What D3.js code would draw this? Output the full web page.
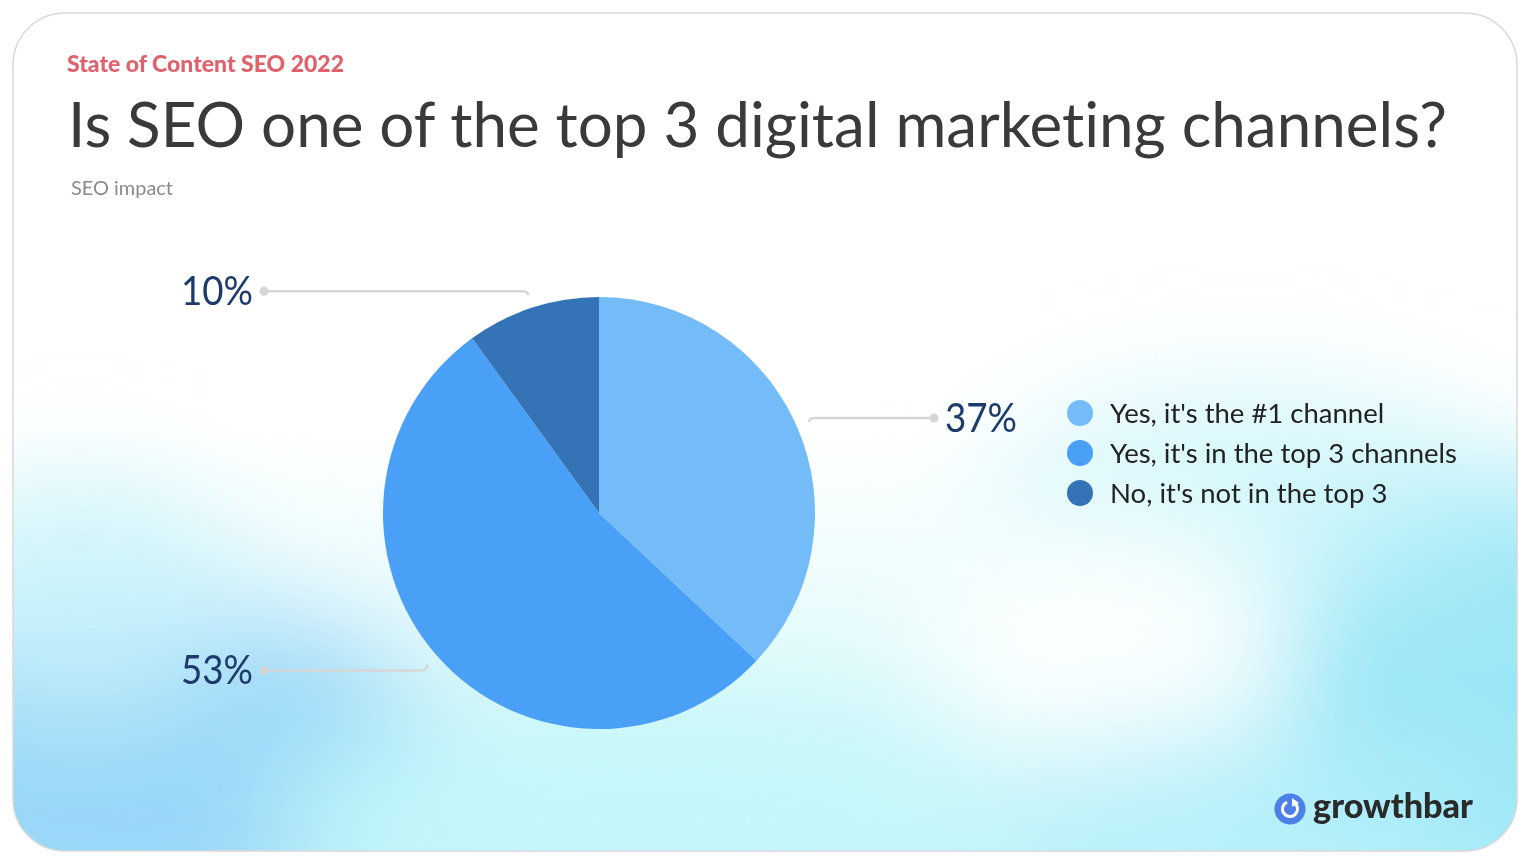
<!DOCTYPE html>
<html>
<head>
<meta charset="utf-8">
<script src="https://cdn.jsdelivr.net/npm/d3@7"></script>
<style>
  html, body { margin: 0; padding: 0; background: #ffffff; }
  svg { display: block; }
  text { font-variant-ligatures: none; font-feature-settings: "liga" 0; }
</style>
</head>
<body>
<svg id="chart" width="1536" height="864"></svg>
<script>
// ---- data ----
const categories = ["Yes, it's the #1 channel", "Yes, it's in the top 3 channels", "No, it's not in the top 3"];
const values = [37, 53, 10];
const labels = ["37%", "53%", "10%"];
const palette = ["#74bcf8", "#4a9ff7", "#3473b6"];
const kicker = "State of Content SEO 2022";
const title = "Is SEO one of the top 3 digital marketing channels?";
const subtitle = "SEO impact";
const brand = "growthbar";

const W = 1536, H = 864;
const svg = d3.select("#chart");
const defs = svg.append("defs");

// card clip
defs.append("clipPath").attr("id", "cardClip")
  .append("rect").attr("x", 13).attr("y", 13).attr("width", 1504).attr("height", 838).attr("rx", 52);

const vg = defs.append("linearGradient").attr("id", "bgGrad").attr("x1", 0).attr("y1", 0).attr("x2", 0).attr("y2", 1);
vg.append("stop").attr("offset", "0%").attr("stop-color", "#ffffff");
vg.append("stop").attr("offset", "50%").attr("stop-color", "#ffffff");
vg.append("stop").attr("offset", "75%").attr("stop-color", "#e6fbfc");
vg.append("stop").attr("offset", "100%").attr("stop-color", "#c6f5fa");

defs.append("filter").attr("id", "blur").attr("x", "-50%").attr("y", "-50%").attr("width", "200%").attr("height", "200%")
  .append("feGaussianBlur").attr("stdDeviation", 55);

const card = svg.append("g").attr("clip-path", "url(#cardClip)");
card.append("rect").attr("x", 13).attr("y", 13).attr("width", 1504).attr("height", 838).attr("fill", "url(#bgGrad)");
const blobs = card.append("g").attr("filter", "url(#blur)");
blobs.append("ellipse").attr("cx", 130).attr("cy", 770).attr("rx", 320).attr("ry", 170).attr("fill", "#93d3f7").attr("opacity", 0.9);
blobs.append("ellipse").attr("cx", 80).attr("cy", 600).attr("rx", 160).attr("ry", 120).attr("fill", "#c8f3fa").attr("opacity", 0.8);
blobs.append("ellipse").attr("cx", 650).attr("cy", 820).attr("rx", 380).attr("ry", 120).attr("fill", "#c4f7fa").attr("opacity", 0.9);
blobs.append("ellipse").attr("cx", 1490).attr("cy", 690).attr("rx", 200).attr("ry", 220).attr("fill", "#94e4f6").attr("opacity", 0.9);
blobs.append("ellipse").attr("cx", 1250).attr("cy", 500).attr("rx", 260).attr("ry", 110).attr("fill", "#c2f4fa").attr("opacity", 0.7);
blobs.append("ellipse").attr("cx", 1100).attr("cy", 640).attr("rx", 170).attr("ry", 130).attr("fill", "#ffffff").attr("opacity", 0.85);
blobs.append("ellipse").attr("cx", 1250).attr("cy", 820).attr("rx", 260).attr("ry", 90).attr("fill", "#b2eef9").attr("opacity", 0.8);

svg.append("rect").attr("x", 13).attr("y", 13).attr("width", 1504).attr("height", 838).attr("rx", 52)
  .attr("fill", "none").attr("stroke", "#d9d9d9").attr("stroke-width", 1.5);

// ---- texts ----
svg.append("text").attr("x", 67).attr("y", 72).text(kicker)
  .attr("font-family", "Lato, sans-serif").attr("font-weight", 900).attr("font-size", 22).attr("fill", "#e0606b")
  .attr("textLength", 277).attr("lengthAdjust", "spacingAndGlyphs");
svg.append("text").attr("x", 68).attr("y", 147).text(title)
  .attr("font-family", "Lato, sans-serif").attr("font-weight", 400).attr("font-size", 62).attr("fill", "#3a3a3a")
  .attr("textLength", 1379).attr("lengthAdjust", "spacingAndGlyphs");
svg.append("text").attr("x", 71).attr("y", 195).text(subtitle)
  .attr("font-family", "Lato, sans-serif").attr("font-size", 19).attr("fill", "#8a8a8a")
  .attr("textLength", 102).attr("lengthAdjust", "spacingAndGlyphs");

// ---- pie ----
const cx = 599, cy = 513, R = 216;
const pie = d3.pie().sort(null).value(d => d)(values);
const arc = d3.arc().innerRadius(0).outerRadius(R);
const g = svg.append("g").attr("transform", `translate(${cx},${cy})`);
g.selectAll("path.slice").data(pie).join("path").attr("class", "slice")
  .attr("d", arc).attr("fill", (d, i) => palette[i]);

// leader lines + labels
const lineR = 229, labelOff = 335;
pie.forEach((d, i) => {
  const a = (d.startAngle + d.endAngle) / 2;
  const ax = lineR * Math.sin(a), ay = -lineR * Math.cos(a);
  const right = Math.sin(a) >= 0;
  const top = Math.cos(a) >= 0;
  const ly = ay + (top ? -4 : 6);
  const dx = right ? labelOff : -labelOff;
  const bend = right ? 6 : -6;
  const path = d3.path();
  path.moveTo(ax, ay);
  path.quadraticCurveTo(ax, ly, ax + bend, ly);
  path.lineTo(dx, ly);
  g.append("path").attr("d", path.toString()).attr("fill", "none")
    .attr("stroke", "#d6d6d6").attr("stroke-width", 2.5);
  g.append("circle").attr("cx", dx).attr("cy", ly).attr("r", 4.5).attr("fill", "#d6d6d6");
  g.append("text").attr("x", right ? dx + 11 : dx - 11).attr("y", ly + 14)
    .attr("text-anchor", right ? "start" : "end")
    .attr("font-family", "Lato, sans-serif").attr("font-weight", 400).attr("font-size", 41).attr("fill", "#1d3a6b")
    .attr("textLength", 72).attr("lengthAdjust", "spacingAndGlyphs")
    .text(labels[i]);
});

// ---- legend ----
const legend = svg.append("g").attr("transform", "translate(1080,413)");
const ly = d3.scalePoint().domain(categories).range([0, 80]);
const li = legend.selectAll("g").data(categories).join("g").attr("transform", d => `translate(0,${ly(d)})`);
li.append("circle").attr("r", 13).attr("fill", (d, i) => palette[i]);
li.append("text").attr("x", 30).attr("y", 10).text(d => d)
  .attr("font-family", "Lato, sans-serif").attr("font-size", 27.5).attr("fill", "#222");

// ---- logo ----
const logo = svg.append("g").attr("transform", "translate(1290,809)");
logo.append("circle").attr("r", 15.5).attr("fill", "#4c80e9");
logo.append("path").attr("d", d3.arc().innerRadius(6).outerRadius(9).startAngle(0.6).endAngle(2 * Math.PI - 0.4)()).attr("fill", "#fff");
logo.append("path").attr("d", "M2,-11 L9,-6 L2,-2 Z").attr("fill", "#fff");
svg.append("text").attr("x", 1313).attr("y", 818).text(brand)
  .attr("font-family", "Lato, sans-serif").attr("font-weight", 900).attr("font-size", 34).attr("fill", "#2a2a2a")
  .attr("textLength", 160).attr("lengthAdjust", "spacingAndGlyphs");
</script>
</body>
</html>
